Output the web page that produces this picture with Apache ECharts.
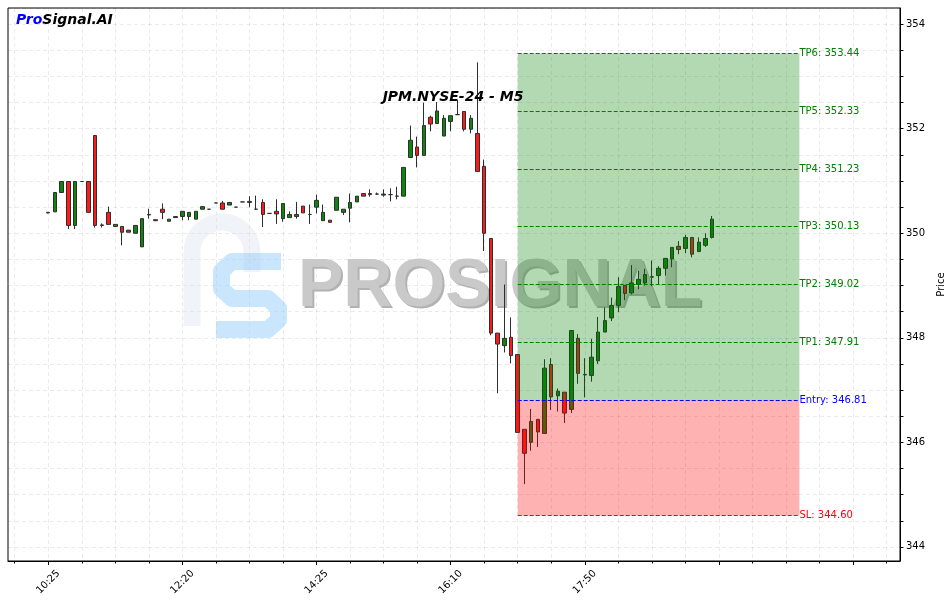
<!DOCTYPE html>
<html><head><meta charset="utf-8">
<script src="https://cdn.jsdelivr.net/npm/echarts@6/dist/echarts.min.js"></script>
<style>html,body{margin:0;padding:0;background:#fff}#c{width:947px;height:603px}</style>
</head><body><div id="c"></div>
<script>
// ---- data (bar index 0..99) ----
const opens = [350.39,350.41,350.78,350.99,350.15,350.99,350.99,351.87,350.16,350.40,
350.17,350.13,350.06,350.00,349.74,350.35,350.26,350.46,350.23,350.30,
350.32,350.32,350.27,350.46,350.46,350.58,350.58,350.54,350.50,350.60,
350.61,350.46,350.59,350.38,350.42,350.28,350.30,350.32,350.52,350.36,
350.50,350.24,350.25,350.44,350.40,350.48,350.60,350.76,350.76,350.75,
350.73,350.74,350.71,350.71,351.45,351.65,351.49,352.22,352.10,351.86,
352.14,352.27,352.33,351.99,351.91,351.28,349.90,348.09,347.85,348.01,
347.68,346.25,346.00,346.44,346.17,347.49,346.89,346.96,346.63,347.99,
347.29,347.28,347.56,348.11,348.38,348.62,349.00,348.86,349.02,349.05,
349.16,349.19,349.33,349.51,349.75,349.71,349.92,349.65,349.77,349.92];
const closes = [350.40,350.78,350.99,350.15,350.99,350.99,350.40,350.15,350.15,350.17,
350.13,350.02,350.02,350.15,350.28,350.36,350.24,350.40,350.27,350.32,
350.42,350.40,350.42,350.51,350.46,350.58,350.46,350.59,350.50,350.60,
350.59,350.46,350.36,350.38,350.37,350.57,350.36,350.36,350.39,350.36,
350.63,350.40,350.21,350.69,350.46,350.59,350.71,350.71,350.74,350.75,
350.75,350.74,350.71,351.26,351.78,351.49,352.06,352.09,352.34,352.20,
352.25,352.27,351.99,352.20,351.18,350.00,348.09,347.88,347.99,347.66,
346.19,345.79,346.40,346.20,347.42,346.87,346.98,346.56,348.14,347.32,
347.30,347.63,348.11,348.33,348.62,348.98,348.85,349.05,349.12,349.21,
349.17,349.33,349.52,349.73,349.69,349.92,349.60,349.83,349.90,350.27];
const lows = [350.38,350.41,350.78,350.08,350.08,350.99,350.40,350.11,350.11,350.17,
350.13,349.77,350.02,350.00,349.74,350.28,350.24,350.27,350.23,350.30,
350.25,350.25,350.27,350.46,350.46,350.58,350.46,350.54,350.50,350.60,
350.50,350.45,350.12,350.38,350.18,350.22,350.30,350.28,350.39,350.18,
350.38,350.24,350.21,350.44,350.35,350.21,350.60,350.71,350.70,350.74,
350.70,350.61,350.65,350.71,351.45,351.26,351.49,351.95,352.10,351.86,
351.95,352.27,351.95,351.91,351.18,349.66,348.05,346.94,347.72,347.51,
346.19,345.20,345.84,345.91,346.17,346.62,346.59,346.37,346.56,347.12,
346.86,347.16,347.50,348.11,348.32,348.49,348.72,348.83,348.93,349.00,
348.99,349.03,349.19,349.35,349.60,349.62,349.54,349.65,349.74,349.90];
const highs = [350.40,350.78,350.99,350.99,350.99,350.99,350.99,351.87,350.19,350.51,
350.17,350.13,350.06,350.15,350.28,350.47,350.26,350.57,350.27,350.32,
350.42,350.40,350.42,350.51,350.46,350.58,350.62,350.59,350.50,350.60,
350.71,350.72,350.65,350.38,350.65,350.57,350.42,350.60,350.52,350.55,
350.74,350.55,350.25,350.69,350.46,350.76,350.71,350.76,350.84,350.78,
350.84,350.86,350.89,351.26,352.06,351.85,352.50,352.25,352.51,352.26,
352.25,352.56,352.33,352.26,353.27,351.41,349.90,348.09,349.02,348.39,
347.68,346.25,346.64,346.44,347.59,347.61,347.03,346.96,348.14,348.07,
347.61,347.98,348.40,348.58,348.77,349.16,349.00,349.39,349.28,349.32,
349.48,349.37,349.52,349.73,349.85,349.97,349.92,349.92,350.00,350.33];
const tickIdx = [0, 20, 40, 60, 80];
const tickText = ['10:25', '12:20', '14:25', '16:10', '17:50'];
const levelNames = ['TP6', 'TP5', 'TP4', 'TP3', 'TP2', 'TP1', 'Entry', 'SL'];
const levelValues = [353.44, 352.33, 351.23, 350.13, 349.02, 347.91, 346.81, 344.60];
const zoneStart = 70, zoneEnd = 112;
const firstSlot = -6, lastSlot = 127;
const yMin = 343.73, yMax = 354.31;

// ---- build ----
const slots = [];
for (let i = firstSlot; i <= lastSlot; i++) slots.push(String(i));
const off = -firstSlot;
const tickMap = {};
tickIdx.forEach((t, k) => { tickMap[String(t)] = tickText[k]; });
const candles = opens.map((o, i) => [i + off, o, closes[i], lows[i], highs[i]]);

const FONT = 'DejaVu Sans';
const levelColor = n => n === 'Entry' ? '#0000ff' : (n === 'SL' ? '#ff0000' : '#008000');
const markLines = levelNames.map((n, k) => [
  { coord: [zoneStart + off, levelValues[k]],
    lineStyle: { color: levelColor(n), type: [4, 2], width: 1 },
    label: { formatter: n + ': ' + levelValues[k].toFixed(2), color: levelColor(n) } },
  { coord: [zoneEnd + off, levelValues[k]] }
]);
const iEntry = levelNames.indexOf('Entry');
const iSL = levelNames.indexOf('SL');

const gridRect = { left: 8, right: 47, top: 8, bottom: 42, containLabel: false, outerBoundsMode: 'none' };
const chart = echarts.init(document.getElementById('c'), null, { renderer: 'canvas' });
const majorFn = (i) => (i - off) % 20 === 0;
const minorFn = (i) => (i - off) % 5 === 0;
const minorOnlyFn = (i) => (i - off) % 5 === 0 && (i - off) % 20 !== 0;

chart.setOption({
  animation: false,
  backgroundColor: '#ffffff',
  textStyle: { fontFamily: FONT },
  grid: [
    Object.assign({ show: true, borderColor: '#000', borderWidth: 1, backgroundColor: 'transparent' }, gridRect),
    Object.assign({ show: false }, gridRect)
  ],
  xAxis: [{
    type: 'category', gridIndex: 0, data: slots, boundaryGap: false,
    axisLine: { show: true, lineStyle: { color: '#000', width: 1 } },
    axisTick: { show: true, interval: majorFn, length: 4, lineStyle: { color: '#000' } },
    axisLabel: { show: true, interval: majorFn, rotate: 45, align: 'center', verticalAlign: 'middle',
      margin: 21, fontSize: 10, color: '#000', fontFamily: FONT,
      formatter: (v) => tickMap[v] || '' },
    splitLine: { show: true, interval: minorFn, lineStyle: { color: 'rgba(0,0,0,0.08)', type: [4, 3], width: 1 } }
  }, {
    type: 'category', gridIndex: 1, data: slots, boundaryGap: false,
    axisLine: { show: false },
    axisTick: { show: true, interval: minorOnlyFn, length: 2.5, lineStyle: { color: '#000' } },
    axisLabel: { show: false }, splitLine: { show: false }
  }],
  yAxis: [{
    type: 'value', gridIndex: 0, position: 'right', min: yMin, max: yMax, splitNumber: 21, scale: true,
    axisLine: { show: true, lineStyle: { color: '#000' } },
    axisTick: { show: true, length: 3.5, lineStyle: { color: '#000' } },
    axisLabel: { show: true, margin: 6, fontSize: 10, color: '#000', fontFamily: FONT,
      showMinLabel: false, showMaxLabel: false,
      formatter: (v) => Math.abs(v / 2 - Math.round(v / 2)) < 1e-6 ? String(Math.round(v)) : '' },
    splitLine: { show: true, lineStyle: { color: 'rgba(0,0,0,0.08)', type: [4, 3], width: 1 } },
    name: 'Price', nameLocation: 'middle', nameGap: 26, nameRotate: 90,
    nameTextStyle: { fontSize: 10, color: '#000', fontFamily: FONT }
  }, {
    type: 'value', gridIndex: 1, min: yMin, max: yMax, show: false
  }],
  graphic: [
    { type: 'arc', z: 1, silent: true, shape: { cx: 222, cy: 252, r: 30, startAngle: Math.PI, endAngle: 2 * Math.PI },
      style: { stroke: 'rgba(205,215,228,0.3)', lineWidth: 17, fill: null } },
    { type: 'polyline', z: 1, silent: true, shape: { points: [[192, 252], [192, 322], [192, 326]] },
      style: { stroke: 'rgba(205,215,228,0.3)', lineWidth: 17 } },
    { type: 'polyline', z: 1, silent: true, shape: { points: [[252, 252], [252, 272]] },
      style: { stroke: 'rgba(205,215,228,0.3)', lineWidth: 17 } },
    { type: 'polyline', z: 1, silent: true,
      shape: { points: [[281, 261.5], [232, 261.5], [221.5, 271], [221.5, 289], [232, 298.5], [268, 298.5], [278.5, 308], [278.5, 320], [268, 329.5], [216, 329.5]] },
      style: { stroke: 'rgba(150,205,250,0.5)', lineWidth: 17, lineJoin: 'round', fill: null } },
    { type: 'text', z: 1, silent: true, x: 300, y: 289,
      style: { text: 'PROSIGNAL', fill: '#b2b2b2', font: 'bold 68px "Liberation Sans"', verticalAlign: 'middle' } },
    { type: 'text', z: 1, silent: true, x: 298, y: 287,
      style: { text: 'PROSIGNAL', fill: '#c9c9c9', font: 'bold 68px "Liberation Sans"', verticalAlign: 'middle' } },
    { type: 'text', z: 10, silent: true, x: 453, y: 97,
      style: { text: 'JPM.NYSE-24 - M5', fill: '#000', font: 'italic bold 14px "DejaVu Sans"', align: 'center', verticalAlign: 'middle' } },
    { type: 'text', z: 10, silent: true, x: 16, y: 20,
      style: { text: '{a|Pro}{b|Signal.AI}', verticalAlign: 'middle',
        rich: { a: { fill: '#0000ff', font: 'italic bold 14px "DejaVu Sans"' },
                b: { fill: '#000', font: 'italic bold 14px "DejaVu Sans"' } } } }
  ],
  series: [{
    type: 'candlestick', xAxisIndex: 0, yAxisIndex: 0, z: 2,
    data: candles, encode: { x: 0, y: [1, 2, 3, 4] }, barWidth: 4,
    itemStyle: { color: '#0c870c', color0: '#ff1a1a', borderColor: '#2e2e2e', borderColor0: '#2e2e2e', borderWidth: 1 },
    markArea: {
      silent: true, z: 3,
      data: [
        [{ xAxis: zoneStart + off, yAxis: levelValues[0], itemStyle: { color: 'rgba(0,128,0,0.3)' } },
         { xAxis: zoneEnd + off, yAxis: levelValues[iEntry] }],
        [{ xAxis: zoneStart + off, yAxis: levelValues[iEntry], itemStyle: { color: 'rgba(255,0,0,0.3)' } },
         { xAxis: zoneEnd + off, yAxis: levelValues[iSL] }]
      ]
    },
    markLine: {
      silent: true, z: 4, symbol: 'none', precision: 2,
      label: { show: true, position: 'end', distance: 0, fontSize: 10, fontFamily: FONT },
      data: markLines
    }
  }]
});
</script></body></html>
